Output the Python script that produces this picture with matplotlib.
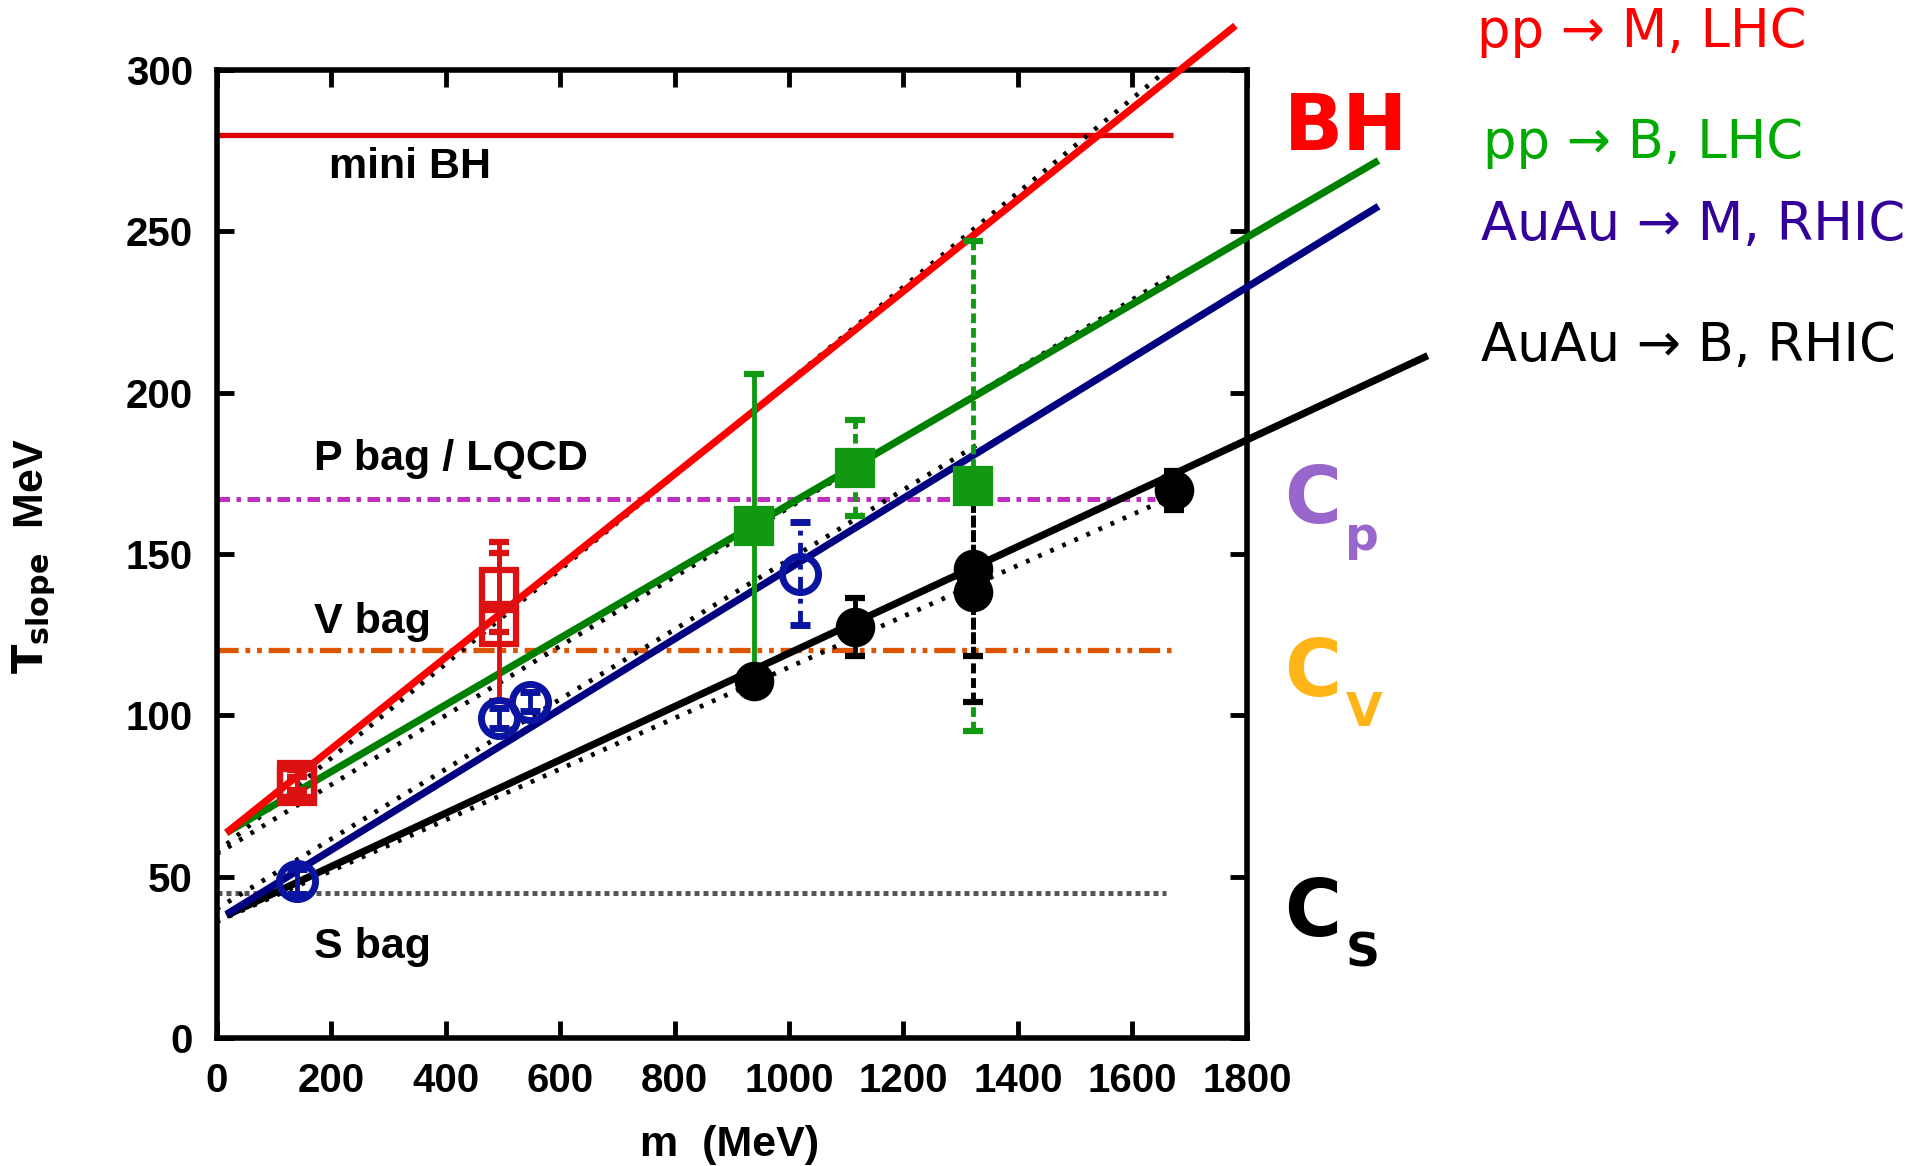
import matplotlib
matplotlib.use('Agg')
import matplotlib.pyplot as plt
from matplotlib.font_manager import FontProperties

# ---------------- data ----------------
x_ticks = [0, 200, 400, 600, 800, 1000, 1200, 1400, 1600, 1800]
y_ticks = [0, 50, 100, 150, 200, 250, 300]

# pp -> M, LHC (red open squares)
red_m = [139.6, 139.6, 493.7, 493.7]
red_T = [78.0, 80.0, 139.8, 127.4]
red_err = [3.0, 3.0, 14.0, 23.0]

# pp -> B, LHC (green filled squares)
green_m = [938.3, 1115.7, 1321.7]
green_T = [158.8, 176.7, 171.0]
green_err = [47.0, 15.0, 76.0]

# AuAu -> M, RHIC (blue open circles)
blue_m = [139.6, 493.7, 547.9, 1019.5]
blue_T = [48.5, 99.2, 104.2, 143.9]
blue_err = [4.0, 3.0, 3.0, 16.0]

# AuAu -> B, RHIC (black filled circles)
black_m = [938.3, 1115.7, 1321.7, 1321.7, 1672.5]
black_T = [110.7, 127.5, 145.4, 138.2, 169.8]
black_err = [3.0, 9.0, 27.0, 34.0, 6.0]

# fitted straight lines: endpoints (m, T)
fit_red_m, fit_red_T = [17, 1780], [63.6, 313.8]
fit_green_m, fit_green_T = [17, 2030], [63.6, 272.0]
fit_blue_m, fit_blue_T = [17, 2030], [38.3, 257.8]
fit_black_m, fit_black_T = [17, 2116], [38.0, 211.5]

# dotted companion lines
dot_red_m, dot_red_T = [0, 1660], [57.5, 300.0]
dot_green_m, dot_green_T = [0, 1671], [57.0, 236.5]
dot_blue_m, dot_blue_T = [0, 1330], [40.0, 184.0]
dot_black_m, dot_black_T = [0, 1660], [36.0, 167.0]

# horizontal reference levels
level_names = ['mini BH', 'P bag / LQCD', 'V bag', 'S bag']
level_T = [280.0, 167.2, 120.2, 45.0]
level_end = [1671, 1640, 1667, 1658]
label_m = [196, 170, 170, 170]
label_T = [266.5, 176.0, 125.6, 24.8]

# ---------------- figure ----------------
W, H = 1568.0, 947.0
def fx(px):
    return px / W
def fy(py):
    return 1 - py / H

fig = plt.figure(figsize=(19.3, 11.66), dpi=100)
ax = fig.add_axes([fx(176), fy(843), fx(1013) - fx(176), fy(57) - fy(843)])
ax.set_xlim(0, 1800)
ax.set_ylim(0, 300)

gfam = ['Liberation Sans', 'DejaVu Sans']
tick_fp = FontProperties(family=gfam, weight='bold', size=29)
lab_fp = FontProperties(family=gfam, weight='bold', size=31)

# horizontal level lines
ax.plot([0, level_end[0]], [level_T[0]] * 2, color='#dd0000', lw=3.8, solid_capstyle='butt')
ax.plot([0, level_end[1]], [level_T[1]] * 2, color='#c030c0', lw=3.6,
        dashes=[2.5, 1.3, 0.9, 1.3])
ax.plot([0, level_end[2]], [level_T[2]] * 2, color='#dd5500', lw=3.8,
        dashes=[4, 1.3, 0.9, 1.3, 0.9, 1.3])
ax.plot([0, level_end[3]], [level_T[3]] * 2, color='#555555', lw=3.6,
        dashes=[1.0, 0.8])

for name, m, t in zip(level_names, label_m, label_T):
    ax.text(m, t, name, fontproperties=lab_fp, ha='left', va='baseline', color='black')

# dotted lines
for mm, tt in [(dot_red_m, dot_red_T), (dot_green_m, dot_green_T),
               (dot_blue_m, dot_blue_T), (dot_black_m, dot_black_T)]:
    ax.plot(mm, tt, color='black', lw=3.4, dashes=[0.8, 2.0], zorder=3)

# fitted lines (extend outside the frame)
kw = dict(lw=5.2, clip_on=False, solid_capstyle='butt')
ax.plot(fit_black_m, fit_black_T, color='black', zorder=4, **kw)
ax.plot(fit_blue_m, fit_blue_T, color='#000080', zorder=4, **kw)
ax.plot(fit_green_m, fit_green_T, color='#008000', zorder=4, **kw)
ax.plot(fit_red_m, fit_red_T, color='#ff0000', zorder=5, **kw)

def ebar(m, t, e, color, marker, ms, filled, ls='-', mew=4.5):
    c = ax.errorbar(m, t, yerr=e, fmt=marker, ms=ms, mew=mew,
                    mfc=color if filled else 'none', mec=color,
                    ecolor=color, elinewidth=3.5, capsize=7, capthick=3.5, zorder=6)
    if ls != '-':
        for lc in c.lines[2]:
            lc.set_linestyle(ls)
    return c

# red open squares
ebar(red_m, red_T, red_err, '#dd1111', 's', 25, False)
# green filled squares
ebar(green_m[:1], green_T[:1], green_err[:1], '#119911', 's', 25, True)
ebar(green_m[1:], green_T[1:], green_err[1:], '#119911', 's', 24, True, ls=(0, (2, 1)))
# blue open circles
ebar(blue_m[:3], blue_T[:3], blue_err[:3], '#0a14a0', 'o', 26, False, mew=5)
ebar(blue_m[3:], blue_T[3:], blue_err[3:], '#0a14a0', 'o', 26, False, ls=(0, (3, 1.5, 1, 1.5)), mew=5)
# black filled circles
ebar(black_m[:2], black_T[:2], black_err[:2], 'black', 'o', 24, True)
ebar(black_m[2:4], black_T[2:4], black_err[2:4], 'black', 'o', 24, True, ls=(0, (2, 1)))
ebar(black_m[4:], black_T[4:], black_err[4:], 'black', 'o', 24, True)

# axes frame & ticks
for s in ax.spines.values():
    s.set_linewidth(4)
ax.set_xticks(x_ticks)
ax.set_yticks(y_ticks)
ax.tick_params(direction='in', length=12, width=3.5, top=True, right=True, pad=17)
ax.set_xticklabels([str(v) for v in x_ticks])
ax.set_yticklabels([str(v) for v in y_ticks])
for lab in ax.get_xticklabels() + ax.get_yticklabels():
    lab.set_fontproperties(tick_fp)

ax_fp = FontProperties(family=gfam, weight='bold', size=31)
fig.text(fx(593), fy(930), 'm  (MeV)', fontproperties=ax_fp, ha='center', va='center')
plt.rcParams['mathtext.fontset'] = 'custom'
plt.rcParams['mathtext.rm'] = 'Liberation Sans:bold'
plt.rcParams['mathtext.bf'] = 'Liberation Sans:bold'
fig.text(fx(28), fy(452), r'$\mathbf{T_{slope}}$  MeV', fontproperties=ax_fp,
         rotation=90, ha='center', va='center')

# right-hand annotations
rfam = ['DejaVu Sans']
rsize = 38
fig.text(fx(1200), fy(38), 'pp \u2192 M, LHC', color='#ff0000', family=rfam, size=rsize, va='baseline')
fig.text(fx(1205), fy(128), 'pp \u2192 B, LHC', color='#00aa00', family=rfam, size=rsize, va='baseline')
fig.text(fx(1203), fy(195), 'AuAu \u2192 M, RHIC', color='#330099', family=rfam, size=rsize, va='baseline')
fig.text(fx(1203), fy(293), 'AuAu \u2192 B, RHIC', color='black', family=rfam, size=rsize, va='baseline')
fig.text(fx(1043), fy(122), 'BH', color='#ff0000', family=rfam, weight='bold', size=56, va='baseline')

for ctxt, sub, col, yb, ysub in [('C', 'p', '#9966cc', 425, 447),
                                 ('C', 'V', '#ffb518', 565, 590),
                                 ('C', 'S', 'black', 760, 785)]:
    fig.text(fx(1043), fy(yb), ctxt, color=col, family=rfam, weight='bold', size=56, va='baseline')
    fig.text(fx(1093), fy(ysub), sub, color=col, family=rfam, weight='bold', size=34, va='baseline')

fig.savefig('out.png', dpi=100, facecolor='white')
